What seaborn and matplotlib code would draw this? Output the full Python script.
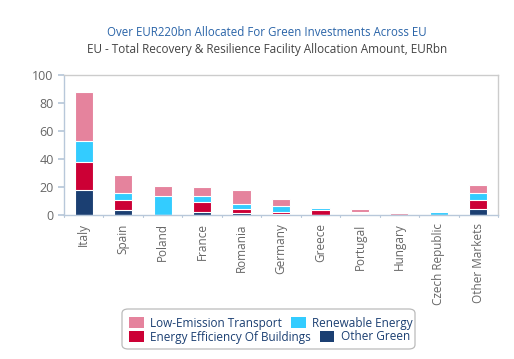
import numpy as np
import pandas as pd
import seaborn as sns
from matplotlib import pyplot as plt
from matplotlib.patches import Patch, FancyBboxPatch

sns.set_theme(style="white")
plt.rcParams["font.family"] = ["Open Sans", "DejaVu Sans"]

countries = ["Italy", "Spain", "Poland", "France", "Romania", "Germany",
             "Greece", "Portugal", "Hungary", "Czech Republic", "Other Markets"]
other_green = [17.6, 3.9, 0.0, 2.1, 1.8, 0.8, 0.2, 1.0, 0.0, 0.2, 4.6]
efficiency = [20.0, 6.6, 0.0, 7.2, 2.3, 1.5, 3.2, 0.3, 0.0, 0.0, 6.4]
renewable = [15.3, 5.2, 13.8, 4.3, 4.0, 4.0, 1.6, 1.2, 0.0, 1.7, 5.0]
transport = [34.7, 12.7, 6.7, 6.2, 9.5, 5.0, 0.3, 1.5, 1.8, 0.0, 5.2]

series = [
    ("Other Green", other_green, "#1B3F72"),
    ("Energy Efficiency Of Buildings", efficiency, "#CC0035"),
    ("Renewable Energy", renewable, "#33CCFF"),
    ("Low-Emission Transport", transport, "#E5839D"),
]

df = pd.DataFrame({"country": countries})
cum = np.zeros(len(countries))
for name, vals, _ in series:
    cum = cum + np.array(vals)
    df[name] = cum

W, H = 514, 359
fig = plt.figure(figsize=(W / 100, H / 100), dpi=100)
ax = fig.add_axes([0.1245, 0.401, 0.8445, 0.391])

# draw cumulative totals, tallest first
for name, _, color in reversed(series):
    sns.barplot(data=df, x="country", y=name, color=color, width=0.46,
                edgecolor="white", linewidth=0.8, saturation=1, ax=ax)

ax.set_ylim(0, 100)
ax.set_xlim(-0.5, len(countries) - 0.5)
ax.set_yticks(range(0, 101, 20))
ax.set_xlabel("")
ax.set_ylabel("")
ax.set_xticks(np.arange(len(countries)))
ax.set_xticklabels(countries, rotation=90, fontsize=8.5, color="#666666")
ax.tick_params(axis="x", length=0, pad=6)
ax.tick_params(axis="y", labelsize=9, colors="#666666", length=4, color="#B8C8DA", left=True)
for x in np.arange(-0.5, len(countries), 1.0):
    ax.plot([x, x], [0, -1.6], color="#B8C8DA", lw=0.8, clip_on=False)

for side in ["top", "right"]:
    ax.spines[side].set_color("#CCCCCC")
    ax.spines[side].set_linewidth(1.0)
for side in ["left", "bottom"]:
    ax.spines[side].set_color("#B8C8DA")
    ax.spines[side].set_linewidth(1.0)

fig.text(0.520, 1 - 33 / H, "Over EUR220bn Allocated For Green Investments Across EU",
         ha="center", va="center", fontsize=8.3, color="#2A64A8")
fig.text(0.520, 1 - 50 / H, "EU - Total Recovery & Resilience Facility Allocation Amount, EURbn",
         ha="center", va="center", fontsize=8.5, color="#444444")

# legend: two free-flowing rows inside one rounded box
frame = FancyBboxPatch((122 / W, 1 - 349 / H), (415 - 122) / W, 40 / H,
                       boxstyle="round,pad=0,rounding_size=0.012",
                       transform=fig.transFigure, facecolor="white",
                       edgecolor="#BBBBBB", linewidth=0.9)
fig.add_artist(frame)
rows = [([3, 2], 323), ([1, 0], 337)]
for idx, ypix in rows:
    handles = [Patch(facecolor=series[i][2], edgecolor="none") for i in idx]
    labels = [series[i][0] for i in idx]
    leg = fig.legend(handles, labels, loc="center left",
                     bbox_to_anchor=(129 / W, 1 - ypix / H), ncol=2,
                     fontsize=8.5, frameon=False, borderpad=0, borderaxespad=0,
                     handlelength=1.27, handleheight=0.95, handletextpad=0.55,
                     columnspacing=0.7, labelcolor="#1B3F72")

fig.savefig("out.png", dpi=100)
